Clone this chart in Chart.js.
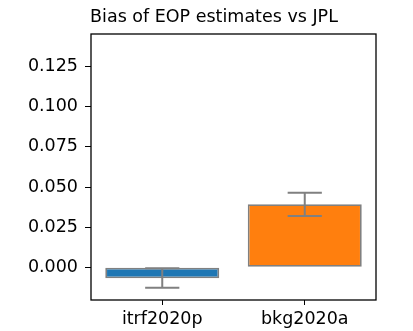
<!DOCTYPE html>
<html lang="en">
<head>
  <meta charset="UTF-8">
  <title>Bias of EOP estimates vs JPL</title>
  <script src="https://cdn.jsdelivr.net/npm/chart.js"></script>
  <style>
    html, body { margin: 0; padding: 0; background: #fff; }
    #wrap { width: 413px; height: 331px; }
  </style>
</head>
<body>
<div id="wrap"><canvas id="biasChart"></canvas></div>

<script>
  // values
  var solutions = ['itrf2020p', 'bkg2020a'];
  var biasMean = [-0.0069, 0.0393];
  var ciLow = [-0.0127, 0.0320];
  var ciHigh = [-0.0006, 0.0465];
  var barColors = ['#1f77b4', '#ff7f0e'];
  var yTicks = [0, 0.025, 0.05, 0.075, 0.1, 0.125];

  var font = "'DejaVu Sans', sans-serif";

  // error bars + full frame, drawn after the bars
  var errorBars = {
    id: 'errorBars',
    afterLayout: function(chart) {
      // title sits a bit left of the axes centre in the original
      chart.titleBlock.left = 52;
      chart.titleBlock.right = 376;
    },
    afterDatasetsDraw: function(chart) {
      var ctx = chart.ctx;
      var x = chart.scales.x, y = chart.scales.y;
      var meta = chart.getDatasetMeta(0);
      ctx.save();
      ctx.strokeStyle = '#808080';
      ctx.lineWidth = 2;
      for (var i = 0; i < solutions.length; i++) {
        var cx = x.getPixelForValue(i);
        var half = meta.data[i].width * 0.15;
        var top = y.getPixelForValue(ciHigh[i]);
        var bot = y.getPixelForValue(ciLow[i]);
        ctx.beginPath();
        ctx.moveTo(cx, top); ctx.lineTo(cx, bot);
        ctx.moveTo(cx - half, top); ctx.lineTo(cx + half, top);
        ctx.moveTo(cx - half, bot); ctx.lineTo(cx + half, bot);
        ctx.stroke();
      }
      var a = chart.chartArea;
      ctx.strokeStyle = '#000';
      ctx.lineWidth = 1.3;
      ctx.strokeRect(a.left, a.top, a.right - a.left, a.bottom - a.top);
      ctx.restore();
    }
  };

  new Chart(document.getElementById('biasChart'), {
    type: 'bar',
    data: {
      labels: solutions,
      datasets: [{
        data: biasMean,
        backgroundColor: barColors,
        borderColor: '#808080',
        borderWidth: 1.8,
        borderSkipped: false,
        barPercentage: 0.8,
        categoryPercentage: 1
      }]
    },
    options: {
      responsive: true,
      maintainAspectRatio: false,
      animation: false,
      layout: { padding: { left: 0, right: 37, top: 0, bottom: 0 } },
      plugins: {
        legend: { display: false },
        tooltip: { enabled: false },
        title: {
          display: true,
          text: 'Bias of EOP estimates vs JPL',
          color: '#000',
          fullSize: false,
          font: { family: font, size: 17.5, weight: 'normal', lineHeight: 1.2 },
          padding: { top: 7, bottom: 6 }
        }
      },
      scales: {
        x: {
          grid: { display: true, drawOnChartArea: false, tickLength: 5, color: '#000', offset: false },
          border: { display: false },
          ticks: { color: '#000', font: { family: font, size: 17.5 }, padding: 4 },
          afterFit: function(s) { s.height = 31; }
        },
        y: {
          min: -0.0204,
          max: 0.1454,
          afterBuildTicks: function(s) {
            s.ticks = yTicks.map(function(v) { return { value: v }; });
          },
          grid: { display: true, drawOnChartArea: false, tickLength: 6, color: '#000' },
          border: { display: false },
          ticks: {
            color: '#000',
            font: { family: font, size: 17.5 },
            padding: 7,
            callback: function(v) { return v.toFixed(3); }
          },
          afterFit: function(s) { s.width = 91; }
        }
      }
    },
    plugins: [errorBars]
  });
</script>
</body>
</html>
